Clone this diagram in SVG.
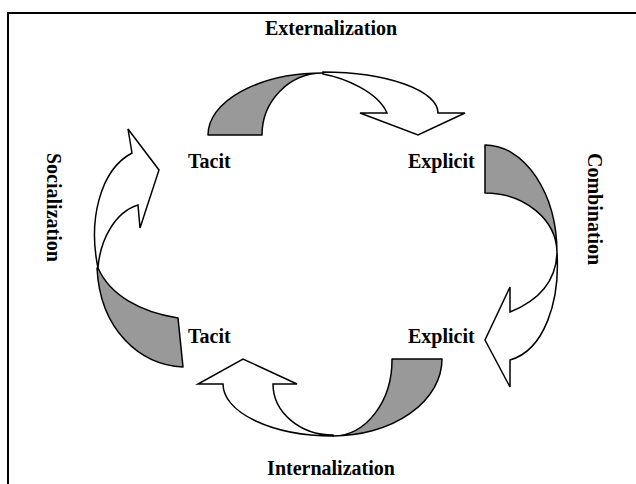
<svg xmlns="http://www.w3.org/2000/svg" width="636" height="484" viewBox="0 0 636 484">
<style>
.lbl{font-family:"Liberation Serif","Times New Roman",serif;font-weight:bold;font-size:20px;fill:#000}
.back{fill:#999999;stroke:#000;stroke-width:1.5;stroke-linejoin:round}
.front{fill:#ffffff;stroke:#000;stroke-width:1.5;stroke-linejoin:miter}
</style>
<rect x="0" y="0" width="636" height="484" fill="#ffffff"/>
<rect id="frame" x="8" y="13" width="700" height="520" fill="none" stroke="#000" stroke-width="2"/>
<g id="connectors">
  <g id="arrow-externalization">
    <path class="back" d="M208,135 A115,62 0 0 1 323,73 A61,62 0 0 0 262,135 Z"/>
    <path class="front" d="M323,72 A115,41 0 0 1 438,113 L465,113 L418,135 L360,113 L387,113 C378,92 345,78 323,74 Z"/>
  </g>
  <g id="arrow-combination">
    <path class="back" d="M485,145 A72,108 0 0 1 557,253 A72,60 0 0 0 485,193 Z"/>
    <path class="front" d="M557,253 C560,300 545,350 510,360 L510,387 L485,340 L510,287 L510,312 C540,300 556,280 557,253 Z"/>
  </g>
  <g id="arrow-internalization">
    <path class="back" d="M442,359 A109,77 0 0 1 333,436 A59,76 0 0 0 392,359 Z"/>
    <path class="front" d="M333,436 A110,52 0 0 1 223,384 L198,384 L243,359 L297,384 L273,384 A60,51 0 0 0 333,435 Z"/>
  </g>
  <g id="arrow-socialization">
    <path class="back" d="M97,268 C100,330 140,365 183,367 L178,318 C140,312 110,295 98,268 Z"/>
    <path class="front" d="M98,268 C88,220 100,170 132,153 L128,129 L159,170 L140,228 L138,205 C115,212 100,240 98,268 Z"/>
  </g>
</g>
<g id="node-externalization"><text class="lbl" x="331" y="35" text-anchor="middle">Externalization</text></g>
<g id="node-tacit-top"><text class="lbl" x="188" y="168">Tacit</text></g>
<g id="node-explicit-top"><text class="lbl" x="408" y="168">Explicit</text></g>
<g id="node-tacit-bottom"><text class="lbl" x="188" y="343">Tacit</text></g>
<g id="node-explicit-bottom"><text class="lbl" x="408" y="343">Explicit</text></g>
<g id="node-internalization"><text class="lbl" x="331" y="475" text-anchor="middle">Internalization</text></g>
<g id="node-socialization"><text class="lbl" transform="translate(47,153) rotate(90)" x="0" y="0">Socialization</text></g>
<g id="node-combination"><text class="lbl" transform="translate(588,153) rotate(90)" x="0" y="0">Combination</text></g>
</svg>
